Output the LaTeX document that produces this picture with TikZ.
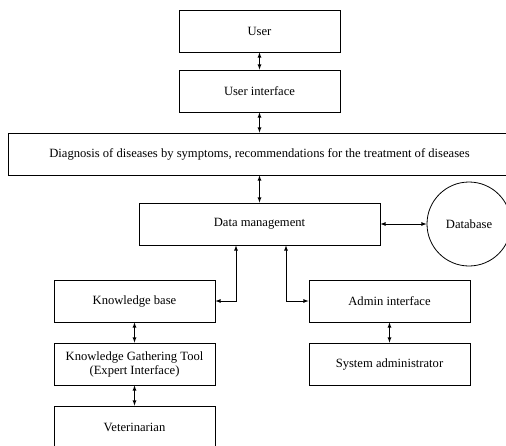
\documentclass[tikz,border=0pt]{standalone}
\usepackage{fontspec}
\setmainfont{Liberation Serif}
\usepackage{tikz}

\tikzset{
box/.style={draw, line width=0.8pt, minimum width=161pt, minimum height=42pt, inner sep=0pt, align=center, font=\fontsize{12.6}{14}\selectfont},
link/.style={line width=0.8pt, latex-latex}
}

\begin{document}
\begin{tikzpicture}[x=1pt,y=-1pt]
\useasboundingbox (0,0) rectangle (506,445);
%top column
\node[box] (user) at (259.5,31) {User};
\node[box] (ui) at (259.5,91) {User interface};
\node[box, minimum width=503pt] (diag) at (259.5,154) {Diagnosis of diseases by symptoms, recommendations for the treatment of diseases};
\node[box, minimum width=241pt] (dm) at (259.5,224) {Data management};
\node[box, shape=circle, minimum size=84pt] (db) at (469,224) {Database};
%left column
\node[box] (kb) at (134.5,301) {Knowledge base};
\node[box] (kgt) at (134.5,364) {Knowledge Gathering Tool\\(Expert Interface)};
\node[box] (vet) at (134.5,427) {Veterinarian};
%right column
\node[box] (adm) at (389.5,301) {Admin interface};
\node[box] (sys) at (389.5,364) {System administrator};
%arrows
\draw[link] (user) -- (ui);
\draw[link] (ui) -- (diag);
\draw[link] (diag) -- (dm);
\draw[link] (dm) -- (db);
\draw[link] (kb.east) -| ([xshift=-23.5pt]dm.south);
\draw[link] (adm.west) -| ([xshift=26.5pt]dm.south);
\draw[link] (kb) -- (kgt);
\draw[link] (kgt) -- (vet);
\draw[link] (adm) -- (sys);
\end{tikzpicture}
\end{document}
